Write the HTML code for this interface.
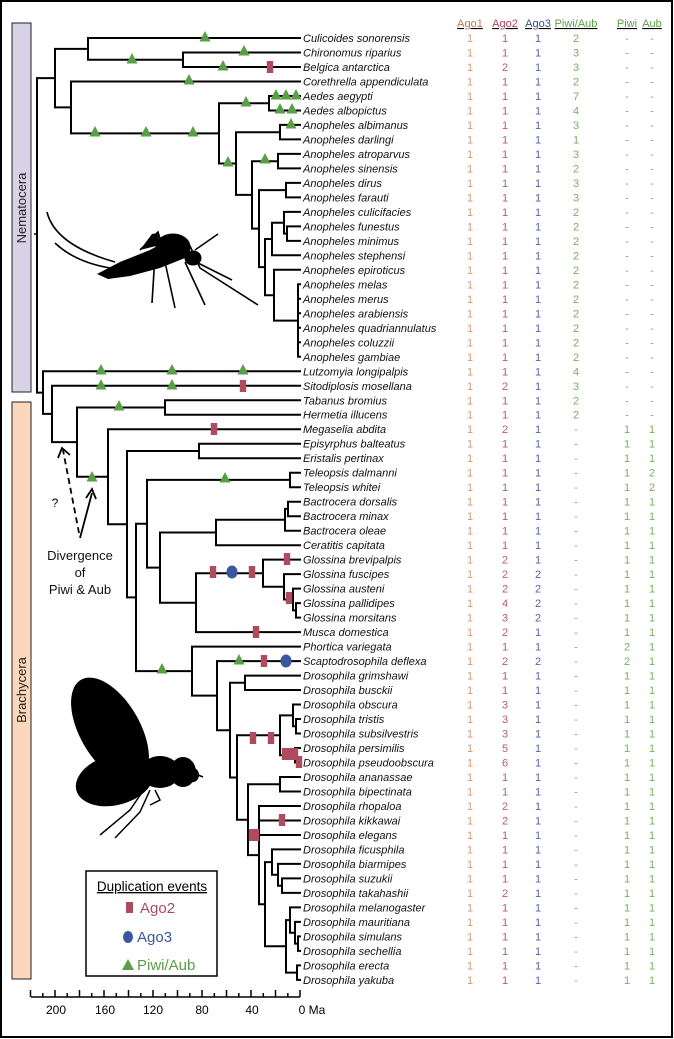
<!DOCTYPE html>
<html><head><meta charset="utf-8">
<style>
html,body{margin:0;padding:0;background:#fff;}
svg{display:block;}
text{font-family:"Liberation Sans",Arial,sans-serif;}
</style></head>
<body>
<svg id="s" width="674" height="1039" viewBox="0 0 674 1039" xmlns="http://www.w3.org/2000/svg">
<rect x="1" y="1" width="671" height="1036" fill="#fff" stroke="#000" stroke-width="2"/>
<rect x="12" y="23" width="19" height="369" fill="#d8d2e6" stroke="#222" stroke-width="1"/>
<text transform="translate(26,208) rotate(-90)" font-size="13" text-anchor="middle" fill="#222">Nematocera</text>
<rect x="12" y="402" width="19" height="577" fill="#fbd8bb" stroke="#222" stroke-width="1"/>
<text transform="translate(26,690) rotate(-90)" font-size="13" text-anchor="middle" fill="#222">Brachycera</text>
<line x1="34" y1="234" x2="37" y2="234" stroke="#000" stroke-width="1.5"/>
<g id="tree" stroke="#000" stroke-width="2" fill="none" stroke-linecap="square"></g>
<g id="marks"></g>
<g id="labels" font-size="11"></g>
<g font-size="11" text-decoration="underline">
<text x="470" y="27" text-anchor="middle" fill="#c2774a">Ago1</text>
<text x="505" y="27" text-anchor="middle" fill="#b0405a">Ago2</text>
<text x="538" y="27" text-anchor="middle" fill="#3a4c98">Ago3</text>
<text x="576" y="27" text-anchor="middle" fill="#5a9e46">Piwi/Aub</text>
<text x="627" y="27" text-anchor="middle" fill="#5a9e46">Piwi</text>
<text x="652" y="27" text-anchor="middle" fill="#5a9e46">Aub</text>
</g>
<!-- mosquito silhouette -->
<g fill="#000" stroke="#000">
<path d="M97 274 L120 262 L150 250 L168 240 L180 240 L185 258 L160 268 L130 276 L108 279 Z" stroke-width="0"/>
<ellipse cx="173" cy="247" rx="17" ry="13"/>
<ellipse cx="193" cy="258" rx="8" ry="7"/>
<path d="M140 250 L152 234 L158 233 L160 245 Z" stroke-width="0"/>
<g fill="none" stroke-width="1.6">
<path d="M47 212 Q55 245 115 262"/>
<path d="M55 243 Q75 262 110 268"/>
<path d="M195 250 L218 234"/>
<path d="M198 263 L232 280"/>
<path d="M155 255 L152 303"/>
<path d="M165 262 L175 308"/>
<path d="M185 262 L205 305"/>
<path d="M190 246 L200 268 L258 305"/>
<path d="M140 250 L158 232 L162 245"/>
</g>
</g>
<!-- fly silhouette -->
<g fill="#000">
<ellipse cx="110" cy="730" rx="30" ry="58" transform="rotate(-30 110 730)"/>
<ellipse cx="115" cy="780" rx="40" ry="25" transform="rotate(-15 115 780)"/>
<ellipse cx="160" cy="772" rx="20" ry="16"/>
<ellipse cx="183" cy="772" rx="13" ry="15"/>
<ellipse cx="193" cy="775" rx="6" ry="7"/>
<g fill="none" stroke="#000" stroke-width="1.5">
<path d="M145 788 L130 810 L100 835"/>
<path d="M150 790 L140 812 L115 838"/>
<path d="M155 790 L160 800 L150 805"/>
<path d="M198 775 L203 777"/>
</g>
</g>
<g stroke="#000" stroke-width="1.8" fill="none">
<path d="M79 533 L63 450" stroke-dasharray="6,4"/>
<path d="M58 458 L62 448 L70 455"/>
<path d="M80 538 L92 493"/>
<path d="M86 498 L92 489 L96 499"/>
</g>
<text x="55" y="507" font-size="12" text-anchor="middle">?</text>
<g font-size="13" text-anchor="middle" fill="#111">
<text x="80" y="560">Divergence</text>
<text x="80" y="577">of</text>
<text x="80" y="594">Piwi &amp; Aub</text>
</g>
<rect x="86" y="871" width="131" height="105" fill="#fff" stroke="#000" stroke-width="1.5"/>
<text x="152" y="891" font-size="13.5" text-anchor="middle" text-decoration="underline">Duplication events</text>
<rect x="126" y="902" width="7" height="11" fill="#b04a5f"/>
<text x="140" y="913" font-size="15" fill="#b04a5f">Ago2</text>
<ellipse cx="128" cy="937" rx="5" ry="6" fill="#3b55a0"/>
<text x="137" y="942" font-size="15" fill="#3b55a0">Ago3</text>
<polygon points="122,970 134,970 128,959" fill="#5a9e46"/>
<text x="137" y="970" font-size="15" fill="#5a9e46">Piwi/Aub</text>
<g id="axis" stroke="#000" stroke-width="1.5"></g>
<g font-size="12" text-anchor="middle">
<text x="56" y="1014">200</text><text x="105" y="1014">160</text><text x="153" y="1014">120</text>
<text x="202" y="1014">80</text><text x="252" y="1014">40</text><text x="312" y="1014">0 Ma</text>
</g>
</svg>
<script>
const NS="http://www.w3.org/2000/svg";
function Y(i){return 38+(i-1)*14.49;}
const TIP=300;
function N(x,...c){return {x:x,c:c};}
const tree=N(37,
 N(55,
  N(88,1,N(183,2,3)),
  N(71,4,N(219,N(269,5,6),
   N(236,N(280,7,8),
    N(252,N(278,9,10),
     N(259,N(286,11,12),
      N(265,N(272,N(284,13,N(287,14,15)),16),
            N(274,17,N(298,18,19,20,21,22,23))))))))),
 N(43,24,N(52,25,
  N(77,N(165,26,27),
   N(108,28,N(127,N(199,29,30),
    N(136,
     N(147,N(290,31,32),
      N(160,N(216,N(285,N(288,33,34),35),36),
            N(196,N(263,37,N(284,38,N(293,39,N(296,40,41)))),42))),
     N(192,43,N(217,44,N(230,N(245,45,46),
      N(237,N(280,N(293,47,N(296,48,49)),N(295,50,51)),
       N(248,N(280,52,53),
        N(259,54,55,56,N(265,N(272,57,N(278,58,N(282,59,60))),
                        N(286,N(290,61,N(295,62,N(298,63,64))),N(297,65,66))))))))))))))));
let d="";
function draw(n){
 if(typeof n==="number") return Y(n);
 const ys=n.c.map(ch=>{const y=draw(ch);const cx=(typeof ch==="number")?TIP:ch.x;d+=`M${n.x} ${y.toFixed(1)}H${cx}`;return y;});
 const y0=ys[0],y1=ys[ys.length-1];
 d+=`M${n.x} ${y0.toFixed(1)}V${y1.toFixed(1)}`;
 return (y0+y1)/2;
}
draw(tree);
const p=document.createElementNS(NS,"path");p.setAttribute("d",d);document.getElementById("tree").appendChild(p);

const M=document.getElementById("marks");
function tri(x,y){const e=document.createElementNS(NS,"polygon");e.setAttribute("points",`${x-5.5},${y+3.5} ${x+5.5},${y+3.5} ${x},${y-7}`);e.setAttribute("fill","#5a9e46");M.appendChild(e);}
function rec(x,y){const e=document.createElementNS(NS,"rect");e.setAttribute("x",x-3.2);e.setAttribute("y",y-6);e.setAttribute("width",6.4);e.setAttribute("height",12);e.setAttribute("fill","#b04a5f");M.appendChild(e);}
function ell(x,y){const e=document.createElementNS(NS,"ellipse");e.setAttribute("cx",x);e.setAttribute("cy",y);e.setAttribute("rx",5.5);e.setAttribute("ry",6.5);e.setAttribute("fill","#3b55a0");M.appendChild(e);}
[[205,38],[244,52],[132,60],[223,67],[189,81],[95,133],[146,133],[193,133],[246,103],[276,96],[286,96],[296,96],[280,110],[292,110],[291,125],[228,163],[265,160],
 [101,371],[172,371],[243,371],[101,386],[172,386],[119,407],[92,478],[225,479],[162,670],[239,661]].forEach(a=>tri(a[0],a[1]));
[[270,67],[243,386],[214,429],[213,572],[252,572],[287,559],[289,598],[256,632],[264,661],[253,738],[271,738],[285,754],[290,754],[295,754],[299,762],[252,835],[256,835],[282,820]].forEach(a=>rec(a[0],a[1]));
[[232,572],[286,661]].forEach(a=>ell(a[0],a[1]));

const names=["Culicoides sonorensis","Chironomus riparius","Belgica antarctica","Corethrella appendiculata","Aedes aegypti","Aedes albopictus","Anopheles albimanus","Anopheles darlingi","Anopheles atroparvus","Anopheles sinensis","Anopheles dirus","Anopheles farauti","Anopheles culicifacies","Anopheles funestus","Anopheles minimus","Anopheles stephensi","Anopheles epiroticus","Anopheles melas","Anopheles merus","Anopheles arabiensis","Anopheles quadriannulatus","Anopheles coluzzii","Anopheles gambiae","Lutzomyia longipalpis","Sitodiplosis mosellana","Tabanus bromius","Hermetia illucens","Megaselia abdita","Episyrphus balteatus","Eristalis pertinax","Teleopsis dalmanni","Teleopsis whitei","Bactrocera dorsalis","Bactrocera minax","Bactrocera oleae","Ceratitis capitata","Glossina brevipalpis","Glossina fuscipes","Glossina austeni","Glossina pallidipes","Glossina morsitans","Musca domestica","Phortica variegata","Scaptodrosophila deflexa","Drosophila grimshawi","Drosophila busckii","Drosophila obscura","Drosophila tristis","Drosophila subsilvestris","Drosophila persimilis","Drosophila pseudoobscura","Drosophila ananassae","Drosophila bipectinata","Drosophila rhopaloa","Drosophila kikkawai","Drosophila elegans","Drosophila ficusphila","Drosophila biarmipes","Drosophila suzukii","Drosophila takahashii","Drosophila melanogaster","Drosophila mauritiana","Drosophila simulans","Drosophila sechellia","Drosophila erecta","Drosophila yakuba"];
const ago2={3:2,25:2,28:2,37:2,38:2,39:2,40:4,41:3,42:2,44:2,47:3,48:3,49:3,50:5,51:6,54:2,55:2,60:2};
const ago3={38:2,39:2,40:2,41:2,44:2};
const pa=[2,3,3,2,7,4,3,1,3,2,3,3,2,2,2,2,2,2,2,2,2,2,2,4,3,2,2];
const L=document.getElementById("labels");
function t(x,y,s,col,it,anc){const e=document.createElementNS(NS,"text");e.setAttribute("x",x);e.setAttribute("y",y);e.setAttribute("fill",col);if(it)e.setAttribute("font-style","italic");if(anc)e.setAttribute("text-anchor","middle");e.textContent=s;L.appendChild(e);}
names.forEach((nm,k)=>{const i=k+1,y=Y(i)+4;
 t(303,y,nm,"#111",true,false);
 t(470,y,"1","#d09a72",false,true);
 t(505,y,String(ago2[i]||1),"#bb5a70",false,true);
 t(538,y,String(ago3[i]||1),"#5563a5",false,true);
 t(576,y,i<=27?String(pa[k]):"-",i<=27?"#78b060":"#999",false,true);
 t(627,y,i<=27?"-":(i==43||i==44?"2":"1"),i<=27?"#999":"#78b060",false,true);
 t(652,y,i<=27?"-":(i==31||i==32?"2":"1"),i<=27?"#999":"#78b060",false,true);
});
const A=document.getElementById("axis");
let ad="M31 997H300";
for(let m=0;m<=220;m+=10){const x=300-m*1.225;ad+=`M${x.toFixed(1)} 997V${m%20==0?990:993}`;}
const ap=document.createElementNS(NS,"path");ap.setAttribute("d",ad);ap.setAttribute("fill","none");A.appendChild(ap);
</script>
</body></html>
